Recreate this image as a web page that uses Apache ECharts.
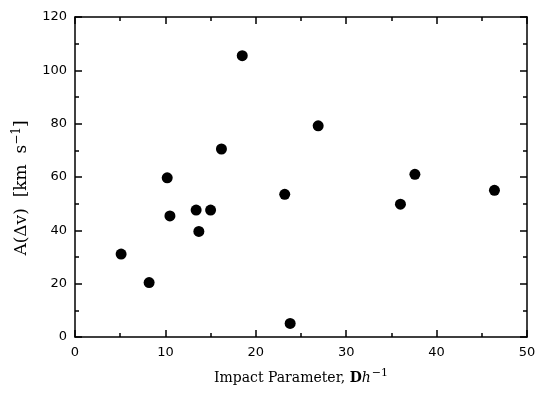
<!DOCTYPE html>
<html><head><meta charset="utf-8">
<script src="https://cdn.jsdelivr.net/npm/echarts@6/dist/echarts.min.js"></script>
<style>html,body{margin:0;padding:0;background:#fff}#c{width:549px;height:393px}</style>
</head><body><div id="c"></div>
<script>
const impactParam = [5.1, 8.2, 10.2, 10.5, 13.4, 15.0, 13.7, 18.5, 26.9, 16.2, 23.2, 23.8, 37.6, 36.0, 46.4];
const amplitude  = [31.1, 20.4, 59.7, 45.4, 47.6, 47.6, 39.6, 105.5, 79.2, 70.5, 53.5, 5.1, 61.0, 49.8, 55.0];
const xTicks = [0, 10, 20, 30, 40, 50];
const yTicks = [0, 20, 40, 60, 80, 100, 120];

const chart = echarts.init(document.getElementById('c'));
const lineStyle = {color:'#000', width:1.5};
const tickFont = {color:'#000', fontFamily:'DejaVu Sans', fontSize:13};
const serif = 'DejaVu Serif';
function axisCommon(extra){
  return Object.assign({
    axisLine:{show:true, onZero:false, lineStyle},
    axisTick:{show:true, inside:true, length:7, lineStyle},
    minorTick:{show:true, splitNumber:2, length:4, lineStyle},
    splitLine:{show:false}
  }, extra);
}
chart.setOption({
  animation:false,
  grid:{left:75, right:22, top:17, bottom:56},
  xAxis:[
    axisCommon({type:'value', min:xTicks[0], max:xTicks[xTicks.length-1], interval:10, position:'bottom',
      axisLabel:Object.assign({margin:9}, tickFont),
      name:'{a|Impact Parameter, }{b|D}{c|h}{s|−1}', nameLocation:'middle', nameGap:31,
      nameTextStyle:{rich:{
        a:{fontFamily:serif, fontSize:14, color:'#000'},
        b:{fontFamily:serif, fontSize:14, fontWeight:'bold', color:'#000'},
        c:{fontFamily:serif, fontSize:14, fontStyle:'italic', color:'#000'},
        s:{fontFamily:serif, fontSize:11, color:'#000', padding:[0,0,10,1]}
      }}}),
    axisCommon({type:'value', min:xTicks[0], max:xTicks[xTicks.length-1], interval:10, position:'top', axisLabel:{show:false}})
  ],
  yAxis:[
    axisCommon({type:'value', min:yTicks[0], max:yTicks[yTicks.length-1], interval:20, position:'left',
      axisLabel:Object.assign({margin:8}, tickFont)}),
    axisCommon({type:'value', min:yTicks[0], max:yTicks[yTicks.length-1], interval:20, position:'right', axisLabel:{show:false}})
  ],
  graphic:[{
    type:'text', x:22, y:188, rotation:Math.PI/2,
    style:{
      x:0, y:0, align:'center', verticalAlign:'middle',
      text:'{a|A(Δv)  [km  s}{s|−1}{a|]}',
      rich:{
        a:{fontFamily:serif, fontSize:17, fill:'#000', color:'#000'},
        s:{fontFamily:serif, fontSize:12, fill:'#000', color:'#000', padding:[0,0,11,0]}
      }
    }
  }],
  series:[{
    type:'scatter',
    data: impactParam.map((x,i)=>[x, amplitude[i]]),
    symbol:'circle', symbolSize:11,
    itemStyle:{color:'#000', opacity:1}
  }]
});
</script></body></html>
